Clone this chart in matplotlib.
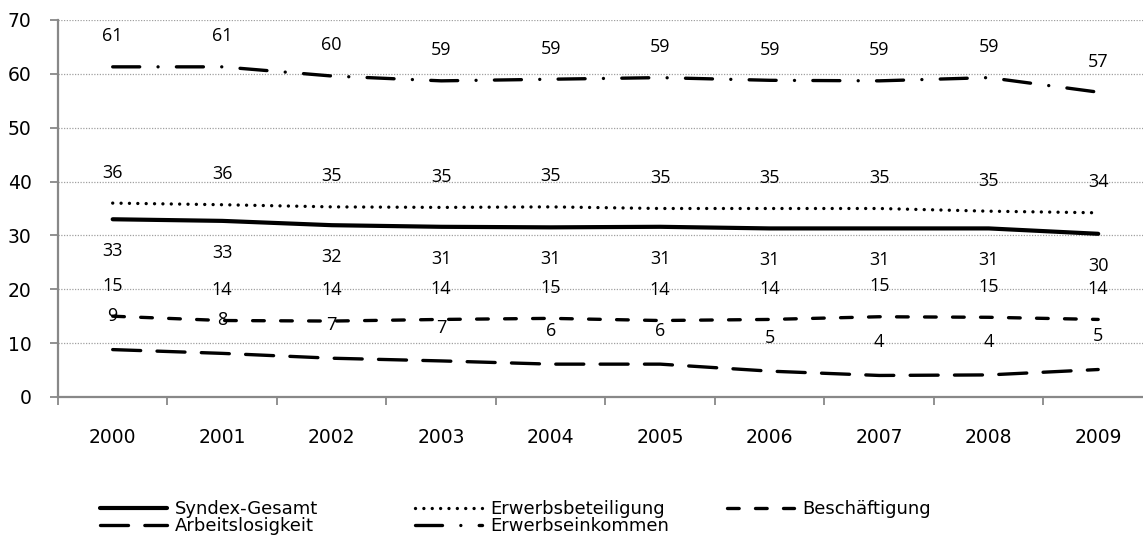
import matplotlib
matplotlib.use("Agg")
import matplotlib.pyplot as plt
import numpy as np

# Jahre und Werte
jahre = ["2000", "2001", "2002", "2003", "2004", "2005", "2006", "2007", "2008", "2009"]

syndex_gesamt = [33.0, 32.7, 31.9, 31.6, 31.5, 31.6, 31.3, 31.3, 31.3, 30.3]
erwerbsbeteiligung = [36.0, 35.7, 35.3, 35.2, 35.3, 35.0, 35.0, 35.0, 34.5, 34.2]
beschaeftigung = [15.0, 14.2, 14.1, 14.4, 14.6, 14.2, 14.4, 14.9, 14.8, 14.4]
arbeitslosigkeit = [8.8, 8.1, 7.2, 6.7, 6.1, 6.1, 4.8, 4.0, 4.1, 5.1]
erwerbseinkommen = [61.3, 61.3, 59.6, 58.7, 59.0, 59.3, 58.8, 58.7, 59.3, 56.6]

# Beschriftungen (gerundete Werte)
lbl_syndex = [33, 33, 32, 31, 31, 31, 31, 31, 31, 30]
lbl_beteiligung = [36, 36, 35, 35, 35, 35, 35, 35, 35, 34]
lbl_beschaeftigung = [15, 14, 14, 14, 15, 14, 14, 15, 15, 14]
lbl_arbeitslos = [9, 8, 7, 7, 6, 6, 5, 4, 4, 5]
lbl_einkommen = [61, 61, 60, 59, 59, 59, 59, 59, 59, 57]

fig = plt.figure(figsize=(11.43, 5.46), dpi=100)
ax = fig.add_axes([0.0507, 0.2729, 0.958, 0.6905])

x = np.arange(len(jahre))

l_syn, = ax.plot(x, syndex_gesamt, color="black", lw=3.0, solid_capstyle="round",
                 label="Syndex-Gesamt")
l_bet, = ax.plot(x, erwerbsbeteiligung, color="black", lw=2.4,
                 linestyle=(0, (0.01, 2.5)), dash_capstyle="round",
                 label="Erwerbsbeteiligung")
l_bes, = ax.plot(x, beschaeftigung, color="black", lw=2.4,
                 linestyle=(0, (3.5, 4.9)), dash_capstyle="round",
                 label="Beschäftigung")
l_arb, = ax.plot(x, arbeitslosigkeit, color="black", lw=2.4,
                 linestyle=(0, (8.4, 4.9)), dash_capstyle="round",
                 label="Arbeitslosigkeit")
l_ein, = ax.plot(x, erwerbseinkommen, color="black", lw=2.4,
                 linestyle=(0, (8.1, 5.5, 0.01, 5.5)), dash_capstyle="round",
                 label="Erwerbseinkommen")

# Datenbeschriftungen
lbl_font = dict(family="Open Sans", size=13, color="black")
for werte, lbls, dy in [(erwerbseinkommen, lbl_einkommen, 22),
                        (erwerbsbeteiligung, lbl_beteiligung, 22),
                        (syndex_gesamt, lbl_syndex, -23),
                        (beschaeftigung, lbl_beschaeftigung, 22),
                        (arbeitslosigkeit, lbl_arbeitslos, 24)]:
    for xi, v, t in zip(x, werte, lbls):
        ax.annotate(str(t), (xi, v), xytext=(0, dy), textcoords="offset points",
                    ha="center", va="center", **lbl_font)

ax.set_xlim(-0.5, len(jahre) - 0.5)
ax.set_ylim(0, 70)
ax.set_yticks(np.arange(0, 71, 10))
ax.yaxis.grid(True, color="#a0a0a0", linestyle=(0, (1, 1.2)), lw=0.9)
ax.set_axisbelow(True)

# Striche zwischen den Kategorien, Beschriftung in der Mitte
ax.set_xticks(np.arange(-0.5, len(jahre), 1.0))
ax.set_xticklabels([])
ax.set_xticks(x, minor=True)
ax.set_xticklabels(jahre, minor=True, family="DejaVu Sans", fontsize=13.5)
ax.tick_params(axis="x", which="major", direction="out", length=6, width=1.3, color="#888888")
ax.tick_params(axis="x", which="minor", length=0, pad=22)
ax.tick_params(axis="y", direction="out", length=6, width=1.3, color="#888888", pad=13)
for t in ax.get_yticklabels():
    t.set_family("DejaVu Sans")
    t.set_fontsize(13.5)

for s in ["top", "right"]:
    ax.spines[s].set_visible(False)
for s in ["left", "bottom"]:
    ax.spines[s].set_color("#888888")
    ax.spines[s].set_linewidth(1.6)

# Legende: drei Spalten wie im Original
leg_kw = dict(loc="upper left", frameon=False, borderpad=0, borderaxespad=0,
              handlelength=3.7, handletextpad=0.45, labelspacing=-0.05,
              prop=dict(family="DejaVu Sans", size=13))
leg_top = 1 - 500 / 546
fig.legend([l_syn, l_arb], ["Syndex-Gesamt", "Arbeitslosigkeit"],
           bbox_to_anchor=(100 / 1143, leg_top), **leg_kw)
fig.legend([l_bet, l_ein], ["Erwerbsbeteiligung", "Erwerbseinkommen"],
           bbox_to_anchor=(415 / 1143, leg_top), **leg_kw)
fig.legend([l_bes], ["Beschäftigung"],
           bbox_to_anchor=(727 / 1143, leg_top), **leg_kw)

fig.savefig("out.png", dpi=100)
